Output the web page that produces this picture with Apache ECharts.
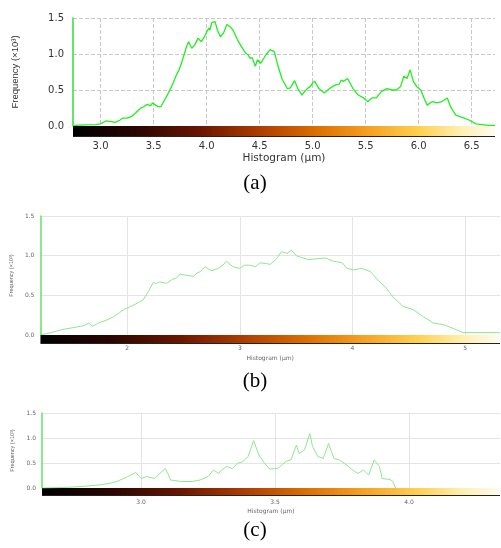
<!DOCTYPE html>
<html><head><meta charset="utf-8">
<script src="https://cdn.jsdelivr.net/npm/echarts@6/dist/echarts.min.js"></script>
<style>html,body{margin:0;padding:0;background:#fff}#c{width:501px;height:548px}</style>
</head><body><div id="c"></div>
<script>
// Panel (a)
const aX = [2.75,2.85,2.95,3.0,3.05,3.1,3.14,3.18,3.21,3.25,3.29,3.33,3.38,3.41,3.44,3.47,3.49,3.52,3.54,3.57,3.60,3.64,3.68,3.71,3.74,3.76,3.79,3.81,3.83,3.86,3.89,3.92,3.95,3.98,4.02,4.03,4.05,4.06,4.08,4.10,4.13,4.16,4.19,4.22,4.25,4.29,4.33,4.37,4.39,4.41,4.43,4.46,4.48,4.51,4.56,4.60,4.64,4.67,4.71,4.76,4.79,4.83,4.86,4.90,4.92,4.95,4.98,5.00,5.02,5.06,5.11,5.16,5.19,5.22,5.25,5.27,5.29,5.33,5.38,5.43,5.48,5.52,5.56,5.60,5.65,5.70,5.75,5.79,5.83,5.86,5.89,5.92,5.95,5.98,6.02,6.05,6.08,6.13,6.17,6.22,6.27,6.30,6.35,6.41,6.48,6.54,6.60,6.66,6.72];
const aY = [0.01,0.015,0.02,0.03,0.07,0.06,0.05,0.08,0.11,0.11,0.13,0.18,0.25,0.27,0.30,0.28,0.32,0.29,0.27,0.27,0.35,0.46,0.58,0.69,0.78,0.86,1.00,1.10,1.17,1.08,1.13,1.22,1.17,1.24,1.36,1.33,1.44,1.46,1.45,1.34,1.24,1.29,1.41,1.38,1.33,1.20,1.10,1.01,0.99,0.94,0.95,0.83,0.92,0.87,0.99,1.06,1.03,0.85,0.66,0.52,0.53,0.63,0.52,0.43,0.47,0.52,0.55,0.60,0.62,0.52,0.46,0.52,0.55,0.57,0.58,0.64,0.62,0.66,0.52,0.43,0.39,0.34,0.39,0.39,0.48,0.52,0.50,0.50,0.55,0.69,0.66,0.78,0.62,0.55,0.50,0.39,0.29,0.34,0.32,0.34,0.39,0.27,0.15,0.12,0.08,0.03,0.02,0.01,0.01];
const aTicks = [3.0,3.5,4.0,4.5,5.0,5.5,6.0,6.5];
// Panel (b)
const bX = [1.23,1.35,1.43,1.55,1.62,1.66,1.69,1.76,1.82,1.88,1.93,1.98,2.02,2.06,2.10,2.14,2.19,2.23,2.26,2.29,2.35,2.40,2.44,2.47,2.53,2.59,2.62,2.65,2.69,2.75,2.81,2.85,2.88,2.94,3.00,3.04,3.09,3.14,3.18,3.24,3.27,3.32,3.37,3.42,3.46,3.50,3.54,3.61,3.68,3.76,3.83,3.91,3.95,4.01,4.08,4.16,4.22,4.30,4.36,4.45,4.54,4.63,4.72,4.81,4.90,4.98,5.16,5.31];
const bY = [0.0,0.04,0.07,0.10,0.12,0.15,0.11,0.16,0.19,0.23,0.28,0.33,0.35,0.38,0.41,0.44,0.55,0.66,0.65,0.67,0.65,0.70,0.72,0.77,0.75,0.74,0.78,0.80,0.86,0.81,0.84,0.88,0.93,0.86,0.84,0.88,0.88,0.86,0.91,0.90,0.89,0.95,1.05,1.03,1.07,1.00,0.98,0.95,0.96,0.97,0.93,0.91,0.84,0.82,0.84,0.80,0.70,0.59,0.48,0.36,0.32,0.23,0.15,0.13,0.08,0.03,0.03,0.03];
const bTicks = [2,3,4,5];
// Panel (c)
const cX = [2.63,2.71,2.78,2.84,2.88,2.91,2.95,2.98,3.00,3.02,3.05,3.07,3.09,3.10,3.11,3.15,3.19,3.22,3.25,3.27,3.29,3.30,3.32,3.34,3.36,3.38,3.40,3.42,3.44,3.46,3.48,3.51,3.54,3.56,3.58,3.59,3.61,3.63,3.64,3.66,3.68,3.70,3.72,3.74,3.76,3.79,3.81,3.83,3.85,3.87,3.89,3.90,3.93,3.94,3.95];
const cY = [0.0,0.01,0.03,0.06,0.09,0.13,0.23,0.31,0.19,0.23,0.19,0.29,0.39,0.29,0.16,0.13,0.13,0.16,0.23,0.36,0.29,0.36,0.43,0.39,0.49,0.53,0.63,0.95,0.66,0.50,0.38,0.39,0.53,0.57,0.86,0.69,0.76,1.09,0.83,0.63,0.59,0.89,0.59,0.56,0.49,0.36,0.29,0.36,0.26,0.56,0.43,0.19,0.17,0.13,0.0];
const cTicks = [3.0,3.5,4.0];

const zip = (xs, ys) => xs.map((x, i) => [x, ys[i]]);

const panels = [
  {x:aX,y:aY,ticks:aTicks,min:2.74,max:6.72,grid:{left:73,top:18,width:422,height:108},
   fs:10,nameFs:10.5,yNameFs:9.5,lab:'#333',dec:1,lm:15,ng:27,yng:53,ym:9,
   line:'#22ee22',lw:1.3,split:{type:'dashed',color:'#c8c8c8'},bar:10,yLine:'#33dd33'},
  {x:bX,y:bY,ticks:bTicks,min:1.23,max:5.31,grid:{left:40,top:216,width:460,height:119},
   fs:6,nameFs:6,yNameFs:5.5,lab:'#666',dec:0,lm:10,ng:20,yng:24,ym:6,
   line:'#8de88d',lw:1,split:{type:'solid',color:'#e4e4e4'},bar:8,yLine:'#66e066'},
  {x:cX,y:cY,ticks:cTicks,min:2.63,max:4.34,grid:{left:42,top:413,width:458,height:75},
   fs:6,nameFs:6,yNameFs:5.5,lab:'#666',dec:1,lm:11,ng:20,yng:26,ym:6,
   line:'#8de88d',lw:1,split:{type:'solid',color:'#e4e4e4'},bar:7,yLine:'#66e066'}
];

const chart = echarts.init(document.getElementById('c'), null, {renderer:'canvas'});
const option = {
  animation:false,
  backgroundColor:'#fff',
  grid: panels.map(p => Object.assign({containLabel:false}, p.grid)),
  xAxis: panels.map((p,i) => ({
    type:'value', gridIndex:i, min:p.min, max:p.max,
    name:'Histogram (μm)', nameLocation:'middle', nameGap:p.ng,
    nameTextStyle:{fontFamily:'DejaVu Sans',fontSize:p.nameFs,color:p.lab},
    axisLine:{show:false}, axisTick:{show:false, customValues:p.ticks},
    axisLabel:{customValues:p.ticks, margin:p.lm, fontFamily:'DejaVu Sans', fontSize:p.fs, color:p.lab,
      formatter:v => v.toFixed(p.dec)},
    splitLine:{show:true, lineStyle:{type:p.split.type,color:p.split.color,width:1}}
  })),
  yAxis: panels.map((p,i) => ({
    type:'value', gridIndex:i, min:0, max:1.5, interval:0.5,
    name:'Frequency (×10³)', nameLocation:'middle', nameGap:p.yng,
    nameTextStyle:{fontFamily:'Liberation Sans',fontSize:p.yNameFs,color:p.lab},
    axisLine:{show:true, lineStyle:{color:p.yLine,width:1.5}}, axisTick:{show:false},
    axisLabel:{margin:p.ym, fontFamily:'DejaVu Sans', fontSize:p.fs, color:p.lab, formatter:v => v.toFixed(1)},
    splitLine:{show:true, lineStyle:{type:p.split.type,color:p.split.color,width:1}}
  })),
  series: panels.map((p,i) => ({
    type:'line', xAxisIndex:i, yAxisIndex:i, data:zip(p.x,p.y), showSymbol:false, symbol:'none',
    lineStyle:{color:p.line,width:p.lw}, z:5
  }))
};
chart.setOption(option);

const stops = [
  {offset:0,color:'#000000'},{offset:0.15,color:'#2a0500'},{offset:0.3,color:'#6a1500'},
  {offset:0.45,color:'#b04000'},{offset:0.58,color:'#dc7000'},{offset:0.7,color:'#f5a020'},
  {offset:0.82,color:'#ffd050'},{offset:0.92,color:'#fff0b0'},{offset:1,color:'#fffaf0'}
];
const graphics = [];
panels.forEach((p,i) => {
  const r = chart.getModel().getComponent('grid', i).coordinateSystem.getRect();
  graphics.push({type:'rect', shape:{x:r.x, y:r.y + r.height, width:r.width, height:p.bar}, z:3,
    style:{fill:new echarts.graphic.LinearGradient(0,0,1,0,stops)}});
  graphics.push({type:'rect', shape:{x:r.x, y:r.y + r.height + p.bar, width:r.width, height:1}, z:3,
    style:{fill:'#222'}});
});
const caps = [['(a)',183],['(b)',381],['(c)',530]];
caps.forEach(c => graphics.push({type:'text', x:255, y:c[1], z:10,
  style:{text:c[0], fontFamily:'Liberation Serif', fontSize:21, fill:'#000', align:'center', verticalAlign:'middle'}}));
chart.setOption({graphic:graphics});
</script></body></html>
